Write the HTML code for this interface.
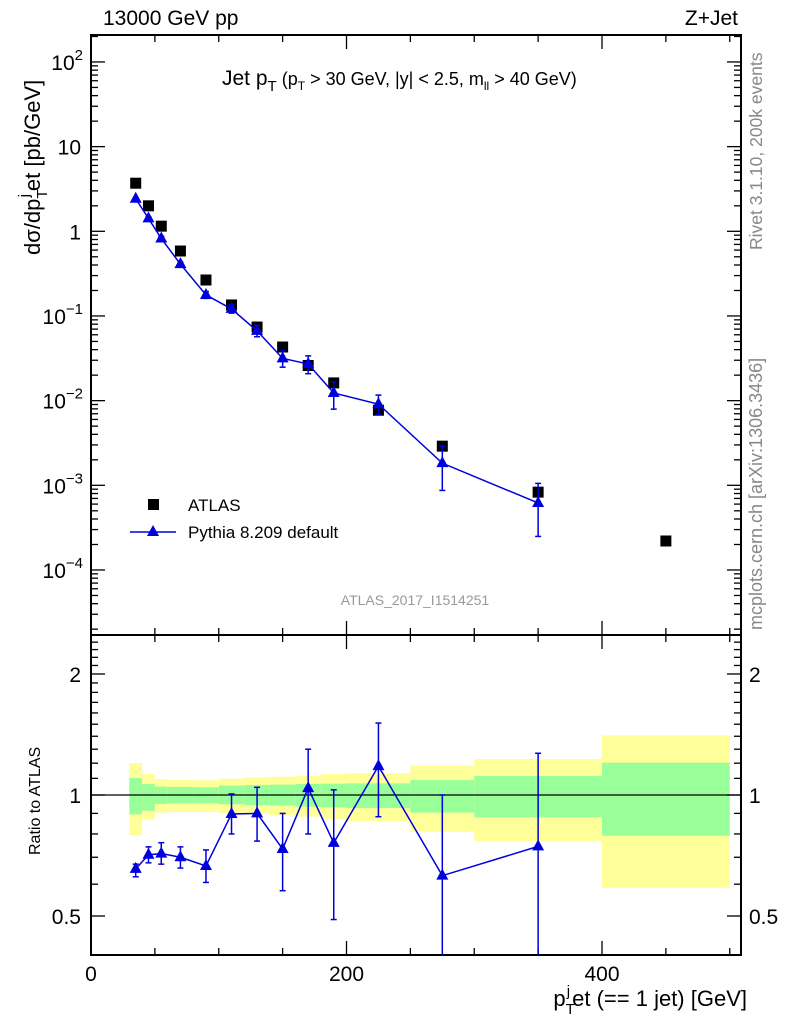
<!DOCTYPE html>
<html><head><meta charset="utf-8"><style>
body{margin:0;background:#fff;}
svg text{font-family:"Liberation Sans",Arial,sans-serif;}
</style></head><body>
<svg id="c" width="786" height="1024" viewBox="0 0 786 1024" xmlns="http://www.w3.org/2000/svg"></svg>
<script>
const binEdges=[30,40,50,60,80,100,120,140,160,180,200,250,300,400,500];
const xCenters=[35,45,55,70,90,110,130,150,170,190,225,275,350,450];
const atlasVals=[3.7,2.0,1.15,0.585,0.266,0.135,0.074,0.043,0.026,0.0162,0.0077,0.0029,0.00083,0.00022];
const ratioVals=[0.655,0.71,0.715,0.70,0.666,0.897,0.90,0.734,1.04,0.76,1.18,0.63,0.745];
const ratioErrHi=[0.673,0.743,0.761,0.743,0.730,1.006,1.045,0.90,1.30,1.03,1.51,1.0,1.27];
const ratioErrLo=[0.626,0.678,0.673,0.658,0.606,0.80,0.768,0.578,0.80,0.49,0.883,0.3,0.3];
const yellowHi=[1.201,1.128,1.096,1.09,1.088,1.098,1.106,1.11,1.117,1.128,1.132,1.183,1.229,1.407];
const greenHi=[1.102,1.065,1.049,1.047,1.045,1.055,1.059,1.061,1.065,1.067,1.069,1.09,1.115,1.203];
const greenLo=[0.895,0.914,0.950,0.953,0.953,0.948,0.944,0.941,0.935,0.932,0.928,0.904,0.88,0.792];
const yellowLo=[0.794,0.868,0.904,0.907,0.907,0.902,0.897,0.890,0.883,0.870,0.862,0.81,0.768,0.588];
const mainTickExps=[-4,-3,-2,-1,0,1,2];
const mainTickLabels=["10","10","10","10","1","10","10"];
const mainTickSup=["−4","−3","−2","−1","","","2"];
const ratioTicks=[0.5,1,2];
const ratioTickLabels=["0.5","1","2"];
const xTicks=[0,200,400];

const svg=document.getElementById('c');
const NS="http://www.w3.org/2000/svg";
const L=91,R=741,MT=35,MB=635,RT=635,RB=955;
const X=v=>L+v*1.2775;
const Ym=v=>231.3-Math.log10(v)*84.67;
const Yr=v=>795-Math.log10(v)*402;
function el(t,a,p){const e=document.createElementNS(NS,t);for(const k in a)e.setAttribute(k,a[k]);(p||svg).appendChild(e);return e;}
function tx(x,y,s,size,anchor,fill){const e=el('text',{x:x,y:y,'font-size':size,'text-anchor':anchor||'start',fill:fill||'#000'});e.textContent=s;return e;}

const gB=el('g',{});


for(let i=0;i<xCenters.length;i++){
 const x0=X(binEdges[i]),x1=X(binEdges[i+1]);
 const y=el('rect',{x:x0,y:Yr(yellowHi[i]),width:x1-x0,height:Yr(yellowLo[i])-Yr(yellowHi[i]),fill:'#ffff99'},gB);
 
 
 const g=el('rect',{x:x0,y:Yr(greenHi[i]),width:x1-x0,height:Yr(greenLo[i])-Yr(greenHi[i]),fill:'#99ff99'},gB);
 
 
}
el('line',{x1:L,x2:R,y1:Yr(1),y2:Yr(1),stroke:'#000','stroke-width':1.3});

const f1=el('rect',{x:L,y:MT,width:R-L,height:MB-MT,fill:'none',stroke:'#000','stroke-width':2});


const f2=el('rect',{x:L,y:RT,width:R-L,height:RB-RT,fill:'none',stroke:'#000','stroke-width':2});



for(let e=-5;e<=2;e++){for(let m=1;m<10;m++){const v=m*Math.pow(10,e);const y=Ym(v);if(y<MT||y>MB)continue;const len=m==1?14:7;
 el('line',{x1:L,x2:L+len,y1:y,y2:y,stroke:'#000','stroke-width':1.3});el('line',{x1:R,x2:R-len,y1:y,y2:y,stroke:'#000','stroke-width':1.3});}}
mainTickExps.forEach((e,i)=>{const y=Ym(Math.pow(10,e));
 if(mainTickSup[i]===""){tx(L-10,y+8,mainTickLabels[i],21,'end');}
 else{const t=tx(L-8,y+8,'',21,'end');const a=el('tspan',{},t);a.textContent=mainTickLabels[i];const b=el('tspan',{dy:-10,'font-size':15},t);b.textContent=mainTickSup[i];}
});
for(let v=0.4;v<=2.51;v+=0.1){const y=Yr(v);if(y<RT||y>RB)continue;const maj=[0.5,1,2].some(m=>Math.abs(m-v)<1e-6);const len=maj?14:7;
 el('line',{x1:L,x2:L+len,y1:y,y2:y,stroke:'#000','stroke-width':1.3});el('line',{x1:R,x2:R-len,y1:y,y2:y,stroke:'#000','stroke-width':1.3});}
ratioTicks.forEach((v,i)=>{tx(L-10,Yr(v)+8,ratioTickLabels[i],21,'end');tx(R+8,Yr(v)+8,ratioTickLabels[i],21,'start');});
for(let v=0;v<=500;v+=50){const x=X(v);const len=v%200==0?14:7;
 [[MB,-1],[RT,1],[RB,-1],[MT,1]].forEach(([y,d])=>el('line',{x1:x,x2:x,y1:y,y2:y+d*len,stroke:'#000','stroke-width':1.3}));}
xTicks.forEach(v=>tx(X(v),981,String(v),21,'middle'));

const gA=el('g',{});


atlasVals.forEach((v,i)=>{const r=el('rect',{x:X(xCenters[i])-5.5,y:Ym(v)-5.5,width:11,height:11,fill:'#000'},gA);
 
 });
const gP=el('g',{});


const tri=(x,y)=>`${x},${y-7} ${x-6},${y+4} ${x+6},${y+4}`;
let pts=[];
ratioVals.forEach((r,i)=>pts.push(X(xCenters[i])+','+Ym(r*atlasVals[i])));
el('polyline',{points:pts.join(' '),fill:'none',stroke:'#0000dd','stroke-width':1.5},gP);
ratioVals.forEach((r,i)=>{const x=X(xCenters[i]);const yl=Math.min(Ym(ratioErrLo[i]*atlasVals[i]),MB),yh=Ym(ratioErrHi[i]*atlasVals[i]);
 el('line',{x1:x,x2:x,y1:yl,y2:yh,stroke:'#0000dd','stroke-width':1.5},gP);
 el('line',{x1:x-3,x2:x+3,y1:yh,y2:yh,stroke:'#0000dd','stroke-width':1.5},gP);
 el('line',{x1:x-3,x2:x+3,y1:yl,y2:yl,stroke:'#0000dd','stroke-width':1.5},gP);
 const p=el('polygon',{points:tri(x,Ym(r*atlasVals[i])),fill:'#0000dd'},gP);
 
 });
const gR=el('g',{});


pts=[];ratioVals.forEach((r,i)=>pts.push(X(xCenters[i])+','+Yr(r)));
el('polyline',{points:pts.join(' '),fill:'none',stroke:'#0000dd','stroke-width':1.5},gR);
ratioVals.forEach((r,i)=>{const x=X(xCenters[i]);const yl=Math.min(Yr(ratioErrLo[i]),RB),yh=Yr(ratioErrHi[i]);
 el('line',{x1:x,x2:x,y1:yl,y2:yh,stroke:'#0000dd','stroke-width':1.5},gR);
 el('line',{x1:x-3,x2:x+3,y1:yh,y2:yh,stroke:'#0000dd','stroke-width':1.5},gR);
 if(yl<RB)el('line',{x1:x-3,x2:x+3,y1:yl,y2:yl,stroke:'#0000dd','stroke-width':1.5},gR);
 const p=el('polygon',{points:tri(x,Yr(r)),fill:'#0000dd'},gR);
 
 });
</script>
<svg width="786" height="1024" style="position:absolute;left:0;top:0" xmlns="http://www.w3.org/2000/svg">
<text x="103" y="25" font-size="21">13000 GeV pp</text>
<text x="738" y="25" font-size="21" text-anchor="end">Z+Jet</text>
<text x="222" y="85" font-size="21">Jet p<tspan font-size="15" dy="6">T</tspan><tspan dy="-6" font-size="18"> (p</tspan><tspan font-size="12" dy="5">T</tspan><tspan dy="-5" font-size="18"> &gt; 30 GeV, |y| &lt; 2.5, m</tspan><tspan font-size="12" dy="5">ll</tspan><tspan dy="-5" font-size="18"> &gt; 40 GeV)</tspan></text>
<text transform="translate(40,255) rotate(-90)" font-size="22">dσ/dp<tspan font-size="15" dy="7">T</tspan><tspan font-size="15" dy="-18" dx="-8">j</tspan><tspan dy="11" dx="3">et [pb/GeV]</tspan></text>
<text transform="translate(40,855) rotate(-90)" font-size="16">Ratio to ATLAS</text>
<text x="747" y="1006" font-size="22" text-anchor="end">p<tspan font-size="15" dy="8">T</tspan><tspan font-size="15" dy="-18" dx="-8">j</tspan><tspan dy="10" dx="2">et (== 1 jet) [GeV]</tspan></text>
<text transform="translate(762,250) rotate(-90)" font-size="17.5" fill="#888">Rivet 3.1.10,  200k events</text>
<text transform="translate(762,630) rotate(-90)" font-size="18" fill="#888">mcplots.cern.ch [arXiv:1306.3436]</text>
<text x="415" y="605" font-size="14" fill="#999" text-anchor="middle">ATLAS_2017_I1514251</text>
<g>
<rect x="148" y="499" width="11" height="11" fill="#000"/>
<text x="188" y="511" font-size="17">ATLAS</text>
<line x1="130" x2="176" y1="532" y2="532" stroke="#0000dd" stroke-width="1.5"/>
<polygon points="153,525 147,536 159,536" fill="#0000dd"/>
<text x="188" y="538" font-size="17">Pythia 8.209 default</text>
</g>
</svg>
</body></html>
